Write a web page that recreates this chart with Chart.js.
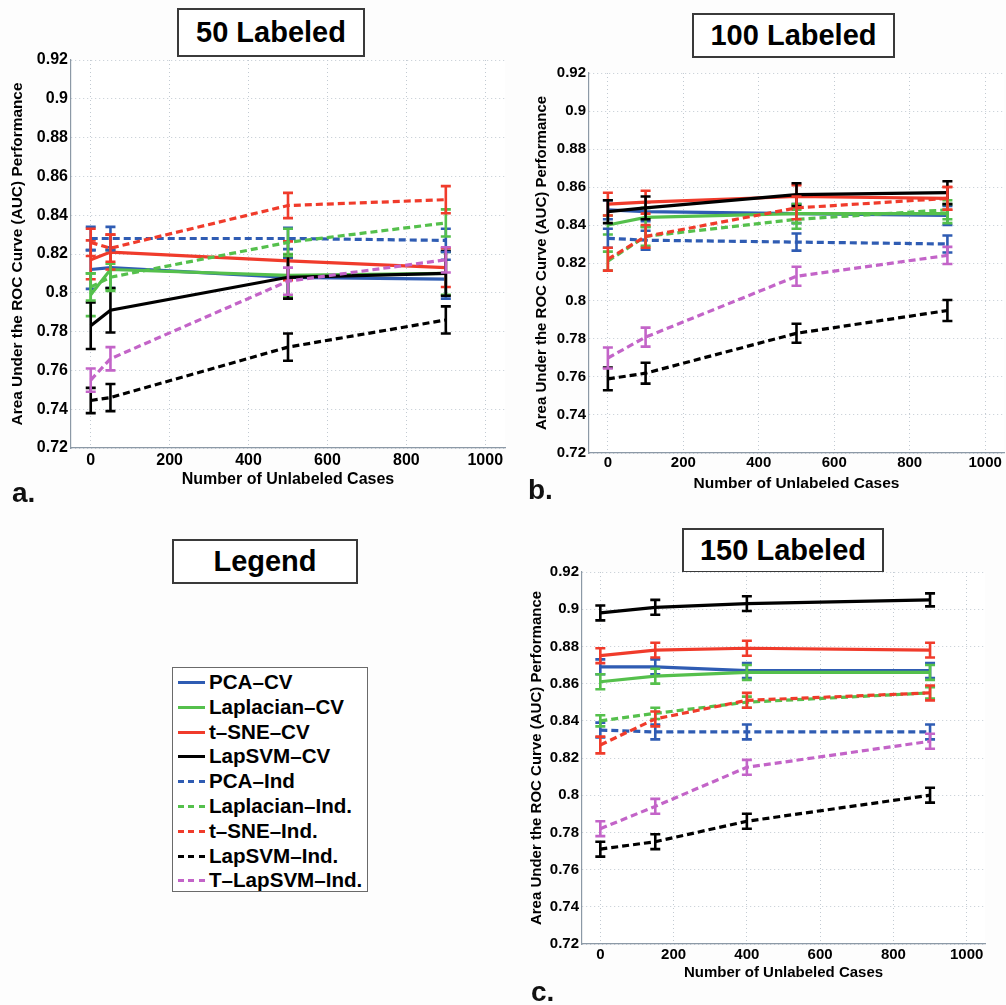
<!DOCTYPE html>
<html>
<head>
<meta charset="utf-8">
<script src="https://cdn.jsdelivr.net/npm/chart.js@4.4.0/dist/chart.umd.min.js"></script>
<style>
  body { margin: 0; background: #fdfdfd; font-family: 'Liberation Sans', Arial, Helvetica, sans-serif; }
  #page { position: relative; width: 1006px; height: 1005px; overflow: hidden; }
  canvas { position: absolute; }
  .tbox { position: absolute; box-sizing: border-box; border: 2px solid #3a3a3a; background: #fff;
          font-weight: bold; font-size: 29px; color: #000; text-align: center; }
  .letter { position: absolute; font-weight: bold; font-size: 28px; line-height: 28px; color: #111; }
  #legend { position: absolute; left: 172px; top: 667px; width: 196px; height: 225px; box-sizing: border-box;
            border: 1.5px solid #6a6a6a; background: #fff; padding-top: 2px; }
  .item { height: 24.8px; position: relative; font-weight: bold; font-size: 20.6px; line-height: 24.8px; color: #000; }
  .item span.sw { position: absolute; left: 5px; top: 11px; width: 27px; height: 3px; }
  .item span.tx { position: absolute; left: 36px; top: 0; white-space: nowrap; }
</style>
</head>
<body>
<div id="page">
  <div class="tbox" style="left:177px; top:8px; width:188px; height:49px; line-height:45px;">50 Labeled</div>
  <div class="tbox" style="left:692px; top:13px; width:203px; height:45px; line-height:41px;">100 Labeled</div>
  <div class="tbox" style="left:172px; top:539px; width:186px; height:45px; line-height:41px;">Legend</div>
  <div class="tbox" style="left:682px; top:528px; width:202px; height:45px; line-height:41px;">150 Labeled</div>

  <canvas id="chartA" width="512" height="470" style="left:0px; top:40px;"></canvas>
  <canvas id="chartB" width="491" height="450" style="left:515px; top:50px;"></canvas>
  <canvas id="chartC" width="491" height="430" style="left:515px; top:560px;"></canvas>

  <div class="letter" style="left:12px; top:479px;">a.</div>
  <div class="letter" style="left:528px; top:476px;">b.</div>
  <div class="letter" style="left:531px; top:978px;">c.</div>

  <div id="legend"></div>
</div>

<script>
const seriesNames = ["PCA–CV", "Laplacian–CV", "t–SNE–CV", "LapSVM–CV", "PCA–Ind",
                     "Laplacian–Ind.", "t–SNE–Ind.", "LapSVM–Ind.", "T–LapSVM–Ind."];

const xTicks = [0, 200, 400, 600, 800, 1000];
const xTickLabels = ["0", "200", "400", "600", "800", "1000"];
const yTicks = [0.72, 0.74, 0.76, 0.78, 0.8, 0.82, 0.84, 0.86, 0.88, 0.9, 0.92];
const yTickLabels = ["0.72", "0.74", "0.76", "0.78", "0.8", "0.82", "0.84", "0.86", "0.88", "0.9", "0.92"];

// 50 labeled
const unlabeledA = [0, 50, 500, 900];
const aucA = [
    [0.812, 0.813, 0.808, 0.807],
    [0.799, 0.812, 0.809, 0.810],
    [0.817, 0.821, 0.8165, 0.813],
    [0.783, 0.791, 0.808, 0.810],
    [0.828, 0.828, 0.828, 0.827],
    [0.803, 0.808, 0.826, 0.836],
    [0.826, 0.823, 0.845, 0.848],
    [0.7445, 0.746, 0.772, 0.786],
    [0.755, 0.766, 0.806, 0.817]
];
const errA = [
    [0.010, 0.0105, 0.010, 0.010],
    [0.011, 0.010, 0.011, 0.011],
    [0.010, 0.009, 0.010, 0.010],
    [0.012, 0.0115, 0.011, 0.0115],
    [0.006, 0.006, 0.0055, 0.006],
    [0.007, 0.007, 0.007, 0.007],
    [0.007, 0.007, 0.0065, 0.007],
    [0.0065, 0.007, 0.007, 0.007],
    [0.006, 0.006, 0.007, 0.0065]
];

// 100 labeled
const unlabeledB = [0, 100, 500, 900];
const aucB = [
    [0.848, 0.847, 0.846, 0.845],
    [0.840, 0.844, 0.846, 0.846],
    [0.851, 0.852, 0.855, 0.854],
    [0.847, 0.849, 0.856, 0.857],
    [0.833, 0.832, 0.831, 0.830],
    [0.821, 0.834, 0.843, 0.848],
    [0.822, 0.834, 0.849, 0.854],
    [0.759, 0.762, 0.783, 0.795],
    [0.770, 0.781, 0.813, 0.824]
];
const errB = [
    [0.005, 0.005, 0.005, 0.005],
    [0.005, 0.005, 0.005, 0.005],
    [0.006, 0.006, 0.006, 0.006],
    [0.006, 0.006, 0.006, 0.006],
    [0.005, 0.005, 0.0045, 0.0045],
    [0.005, 0.005, 0.005, 0.005],
    [0.006, 0.006, 0.006, 0.006],
    [0.006, 0.0055, 0.005, 0.0055],
    [0.0055, 0.005, 0.005, 0.0045]
];

// 150 labeled
const unlabeledC = [0, 150, 400, 900];
const aucC = [
    [0.869, 0.869, 0.867, 0.867],
    [0.861, 0.864, 0.866, 0.866],
    [0.875, 0.878, 0.879, 0.878],
    [0.898, 0.901, 0.903, 0.905],
    [0.835, 0.834, 0.834, 0.834],
    [0.840, 0.844, 0.850, 0.855],
    [0.827, 0.841, 0.851, 0.855],
    [0.771, 0.775, 0.786, 0.800],
    [0.782, 0.794, 0.815, 0.829]
];
const errC = [
    [0.004, 0.004, 0.004, 0.004],
    [0.004, 0.004, 0.004, 0.004],
    [0.004, 0.004, 0.004, 0.004],
    [0.004, 0.004, 0.004, 0.0035],
    [0.004, 0.004, 0.004, 0.004],
    [0.003, 0.003, 0.003, 0.003],
    [0.0045, 0.004, 0.004, 0.004],
    [0.004, 0.004, 0.004, 0.004],
    [0.004, 0.004, 0.004, 0.004]
];

// styles
const lineColors = ["#2f5cb3", "#55c04c", "#f03b2b", "#000000", "#2f5cb3", "#55c04c", "#f03b2b", "#000000", "#c364c8"];
const isDashed = [false, false, false, false, true, true, true, true, true];

Chart.defaults.font.family = "'Liberation Sans', Arial, Helvetica, sans-serif";
Chart.defaults.font.weight = "bold";
Chart.defaults.color = "#000";

const errorBars = {
    id: "errorBars",
    afterDatasetDraw(chart, args) {
        const ds = chart.data.datasets[args.index];
        if (!ds.errors) return;
        const xs = chart.scales.x, ys = chart.scales.y, ctx = chart.ctx;
        ctx.save();
        ctx.strokeStyle = ds.borderColor;
        ctx.lineWidth = 2.6;
        ctx.setLineDash([]);
        ds.data.forEach((p, i) => {
            const px = xs.getPixelForValue(p.x);
            const top = ys.getPixelForValue(p.y + ds.errors[i]);
            const bot = ys.getPixelForValue(p.y - ds.errors[i]);
            ctx.beginPath();
            ctx.moveTo(px, top); ctx.lineTo(px, bot);
            ctx.moveTo(px - 5, top); ctx.lineTo(px + 5, top);
            ctx.moveTo(px - 5, bot); ctx.lineTo(px + 5, bot);
            ctx.stroke();
        });
        ctx.restore();
    }
};

const plotBackground = {
    id: "plotBackground",
    beforeDraw(chart) {
        const a = chart.chartArea, ctx = chart.ctx;
        ctx.save();
        ctx.fillStyle = "#ffffff";
        ctx.fillRect(a.left, a.top, a.right - a.left, a.bottom - a.top);
        ctx.restore();
    }
};

function makeChart(id, xs, values, errors, box) {
    const datasets = values.map((row, i) => ({
        label: seriesNames[i],
        data: row.map((v, j) => ({ x: xs[j], y: v })),
        errors: errors[i],
        borderColor: lineColors[i],
        borderWidth: 3.2,
        borderDash: isDashed[i] ? [7, 4] : [],
        pointRadius: 0,
        tension: 0,
        fill: false,
        order: values.length - 1 - i
    }));

    return new Chart(document.getElementById(id), {
        type: "line",
        data: { datasets },
        options: {
            responsive: false,
            animation: false,
            layout: { padding: box.pad },
            plugins: { legend: { display: false }, tooltip: { enabled: false } },
            scales: {
                x: {
                    type: "linear",
                    min: -50,
                    max: 1050,
                    afterBuildTicks: s => { s.ticks = xTicks.map(v => ({ value: v })); },
                    afterFit: s => { s.height = box.xHeight; },
                    ticks: { callback: (v, i) => xTickLabels[i], font: { size: box.tickSize }, padding: box.xTickPad, maxRotation: 0 },
                    grid: { color: "#c2cad2", lineWidth: 1, drawTicks: false },
                    border: { color: "#8c99a6", width: 1.2, dash: [1, 3] },
                    title: { display: true, text: "Number of Unlabeled Cases", font: { size: box.xTitleSize }, padding: 0 }
                },
                y: {
                    min: 0.72,
                    max: 0.92,
                    afterBuildTicks: s => { s.ticks = yTicks.map(v => ({ value: v })); },
                    afterFit: s => { s.width = box.yWidth; },
                    ticks: { callback: (v, i) => yTickLabels[i], font: { size: box.tickSize }, padding: 3 },
                    grid: { color: "#c2cad2", lineWidth: 1, drawTicks: false },
                    border: { color: "#8c99a6", width: 1.2, dash: [1, 3] },
                    title: { display: true, text: "Area Under the ROC Curve (AUC) Performance",
                             font: { size: box.yTitleSize }, padding: { top: box.yTitlePad, bottom: 0 } }
                }
            }
        },
        plugins: [plotBackground, errorBars]
    });
}

makeChart("chartA", unlabeledA, aucA, errA, {
    pad: { left: 0, top: 20, right: 7, bottom: 21 }, yWidth: 71, xHeight: 41,
    tickSize: 16, xTickPad: 3, xTitleSize: 16, yTitleSize: 15.4, yTitlePad: 9
});
makeChart("chartB", unlabeledB, aucB, errB, {
    pad: { left: 0, top: 23, right: 2, bottom: 7 }, yWidth: 74, xHeight: 40,
    tickSize: 15, xTickPad: 1, xTitleSize: 15.5, yTitleSize: 15, yTitlePad: 18
});
makeChart("chartC", unlabeledC, aucC, errC, {
    pad: { left: 0, top: 12, right: 21, bottom: 8 }, yWidth: 67, xHeight: 38,
    tickSize: 15, xTickPad: 2, xTitleSize: 15, yTitleSize: 15, yTitlePad: 13
});

// legend panel
const legendEl = document.getElementById("legend");
seriesNames.forEach((name, i) => {
    const item = document.createElement("div");
    item.className = "item";
    const sw = document.createElement("span");
    sw.className = "sw";
    sw.style.background = isDashed[i]
        ? `repeating-linear-gradient(90deg, ${lineColors[i]} 0 6px, transparent 6px 10.5px)`
        : lineColors[i];
    const tx = document.createElement("span");
    tx.className = "tx";
    tx.textContent = name;
    item.appendChild(sw);
    item.appendChild(tx);
    legendEl.appendChild(item);
});
</script>
</body>
</html>
